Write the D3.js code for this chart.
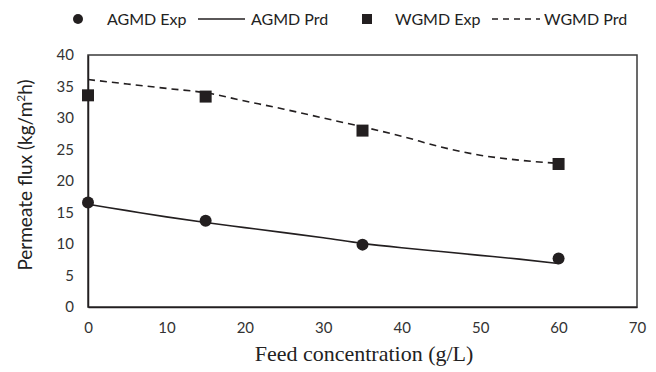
<!DOCTYPE html>
<html><head><meta charset="utf-8">
<script src="https://cdn.jsdelivr.net/npm/d3@7"></script>
<style>body{margin:0;background:#fff}svg{display:block}</style>
</head><body>
<svg id="c" width="656" height="372"></svg>
<script>
const feedConc = [0, 15, 35, 60];
const agmdExp = [16.6, 13.7, 9.9, 7.7];
const wgmdExp = [33.6, 33.4, 28.0, 22.7];
const predX = [0, 5, 10, 15, 20, 25, 30, 35, 40, 45, 50, 55, 60];
const agmdPrd = [16.3, 15.3, 14.3, 13.4, 12.6, 11.8, 11.0, 10.1, 9.4, 8.8, 8.2, 7.6, 6.9];
const wgmdPrd = [36.1, 35.4, 34.7, 34.0, 32.7, 31.4, 30.0, 28.6, 27.1, 25.4, 24.1, 23.3, 22.8];
const xTicks = [0, 10, 20, 30, 40, 50, 60, 70];
const yTicks = [0, 5, 10, 15, 20, 25, 30, 35, 40];
const legendLabels = ["AGMD Exp", "AGMD Prd", "WGMD Exp", "WGMD Prd"];

const svg = d3.select("#c");
const L = 88, R = 637, T = 55, B = 307;
const x = d3.scaleLinear().domain([0, 70]).range([L, R]);
const y = d3.scaleLinear().domain([0, 40]).range([B, T]);
const sans = "Lato, 'Open Sans', sans-serif";
const ink = "#231f20";

// frame
svg.append("rect").attr("x", L).attr("y", T).attr("width", R - L).attr("height", B - T)
  .attr("fill", "none").attr("stroke", "#3a3a3a").attr("stroke-width", 1.5);

// axes (labels only, no tick marks)
const xa = svg.append("g").attr("transform", `translate(0,${B})`)
  .call(d3.axisBottom(x).tickValues(xTicks).tickSize(0).tickPadding(15));
const ya = svg.append("g").attr("transform", `translate(${L},0)`)
  .call(d3.axisLeft(y).tickValues(yTicks).tickSize(0).tickPadding(14));
[xa, ya].forEach(g => {
  g.select(".domain").attr("stroke", ink).attr("stroke-width", 1.5);
  g.selectAll("text").attr("font-family", sans).attr("font-size", 15).attr("fill", "#333");
});

// lines
const line = d3.line().x(d => x(d[0])).y(d => y(d[1])).curve(d3.curveMonotoneX);
svg.append("path").datum(predX.map((v, i) => [v, agmdPrd[i]]))
  .attr("d", line).attr("fill", "none").attr("stroke", ink).attr("stroke-width", 1.6);
svg.append("path").datum(predX.map((v, i) => [v, wgmdPrd[i]]))
  .attr("d", line).attr("fill", "none").attr("stroke", ink).attr("stroke-width", 1.6)
  .attr("stroke-dasharray", "7,5");

// markers
svg.selectAll("circle.a").data(feedConc.map((v, i) => [v, agmdExp[i]])).enter()
  .append("circle").attr("cx", d => x(d[0])).attr("cy", d => y(d[1])).attr("r", 6).attr("fill", ink);
svg.selectAll("rect.w").data(feedConc.map((v, i) => [v, wgmdExp[i]])).enter()
  .append("rect").attr("x", d => x(d[0]) - 6).attr("y", d => y(d[1]) - 6)
  .attr("width", 12).attr("height", 12).attr("fill", ink);

// axis titles
svg.append("text").attr("x", 364).attr("y", 361).attr("text-anchor", "middle")
  .attr("font-family", "'Liberation Serif', 'Times New Roman', serif").attr("font-size", 22)
  .attr("fill", "#222").text("Feed concentration (g/L)");
const yt = svg.append("text").attr("transform", "translate(32,175) rotate(-90)")
  .attr("text-anchor", "middle").attr("font-family", sans).attr("font-size", 19).attr("fill", "#222");
yt.append("tspan").text("Permeate flux (kg/m");
yt.append("tspan").attr("font-size", 12).attr("dy", -7).text("2");
yt.append("tspan").attr("dy", 7).text("h)");

// legend
const ly = 19;
const lg = svg.append("g").attr("font-family", sans).attr("font-size", 16).attr("fill", "#222");
lg.append("circle").attr("cx", 78).attr("cy", ly).attr("r", 5).attr("fill", ink);
lg.append("text").attr("x", 107).attr("y", ly + 6).text(legendLabels[0]);
lg.append("line").attr("x1", 198).attr("x2", 245).attr("y1", ly).attr("y2", ly).attr("stroke", ink).attr("stroke-width", 1.5);
lg.append("text").attr("x", 251).attr("y", ly + 6).text(legendLabels[1]);
lg.append("rect").attr("x", 362).attr("y", ly - 5).attr("width", 10).attr("height", 10).attr("fill", ink);
lg.append("text").attr("x", 395).attr("y", ly + 6).text(legendLabels[2]);
lg.append("line").attr("x1", 492).attr("x2", 540).attr("y1", ly).attr("y2", ly).attr("stroke", ink)
  .attr("stroke-width", 1.5).attr("stroke-dasharray", "6,5");
lg.append("text").attr("x", 544).attr("y", ly + 6).text(legendLabels[3]);
</script>
</body></html>
